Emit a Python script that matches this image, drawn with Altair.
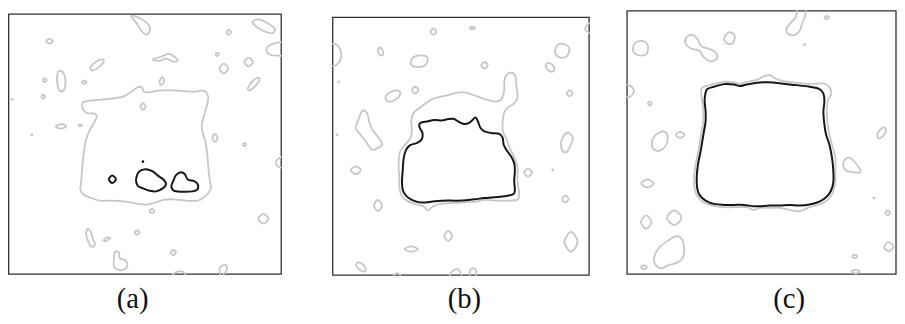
import altair as alt
import pandas as pd

# ---------------- data (local grid units of each panel, y grows downward) -------------
GRAY = "#c6c6c6"
BLACK = "#161616"
FRAME_COLOR = "#303030"

LABELS = ["(a)", "(b)", "(c)"]

FRAME_A = [23, 35, 849, 823]
FRAME_B = [30, 45, 807, 826]
FRAME_C = [37, 25, 852, 823]

A_GRAY_CLOSED = [
    [(252, 300), (290, 295), (340, 290), (372, 284), (395, 270), (415, 256), (427, 257), (433, 270),
     (448, 272), (475, 267), (510, 265), (550, 268), (582, 270), (608, 267), (622, 272), (628, 288),
     (623, 315), (614, 345), (608, 372), (612, 398), (620, 425), (625, 460), (628, 500), (632, 535),
     (636, 560), (628, 577), (612, 592), (595, 600), (560, 600), (522, 596), (492, 598), (468, 606),
     (440, 612), (410, 609), (380, 603), (340, 600), (300, 600), (270, 591), (248, 580), (240, 565),
     (243, 540), (246, 500), (250, 460), (256, 422), (266, 392), (280, 367), (290, 346), (283, 336),
     (262, 335), (249, 325), (246, 310)],
    [(395, 40), (422, 48), (442, 62), (452, 80), (441, 97), (426, 86), (410, 62)],
    [(460, 172), (488, 163), (510, 155), (526, 165), (536, 176), (520, 178), (500, 170), (480, 176)],
    [(762, 58), (782, 51), (810, 64), (830, 80), (822, 93), (800, 88), (776, 75)],
    [(690, 83), (697, 90), (690, 97), (683, 90)],
    [(655, 152), (660, 157), (655, 162), (650, 157)],
    [(750, 167), (763, 180), (750, 193), (737, 180)],
    [(675, 185), (688, 200), (675, 215), (662, 200)],
    [(780, 228), (782, 238), (765, 258), (752, 266), (748, 258), (764, 236)],
    [(147, 110), (157, 117), (147, 124), (137, 117)],
    [(308, 172), (310, 182), (290, 200), (276, 205), (271, 196), (290, 178)],
    [(180, 207), (192, 220), (195, 250), (188, 268), (176, 265), (170, 240), (171, 215)],
    [(132, 229), (138, 235), (132, 241), (126, 235)],
    [(252, 236), (259, 241), (252, 246), (245, 241)],
    [(488, 226), (494, 238), (486, 250), (480, 240)],
    [(128, 279), (134, 285), (128, 291), (122, 285)],
    [(430, 305), (438, 315), (430, 325), (422, 315)],
    [(182, 368), (198, 374), (182, 382), (166, 376)],
    [(240, 369), (246, 372), (240, 375), (234, 372)],
    [(648, 398), (656, 410), (648, 422), (640, 410)],
    [(738, 425), (743, 430), (738, 435), (733, 430)],
    [(457, 625), (464, 632), (457, 639), (450, 632)],
    [(795, 640), (810, 655), (795, 670), (780, 655)],
    [(262, 686), (272, 695), (278, 715), (285, 733), (275, 740), (266, 728), (258, 705)],
    [(310, 720), (320, 712), (330, 713), (320, 722)],
    [(412, 690), (419, 697), (412, 704), (405, 697)],
    [(522, 749), (530, 757), (522, 765), (514, 757)],
    [(345, 756), (357, 757), (360, 775), (375, 780), (383, 795), (375, 808), (355, 810), (342, 800),
     (342, 780)],
]
A_GRAY_OPEN = [
    [(849, 120), (818, 127), (804, 143), (816, 158), (849, 161)],
    [(849, 468), (837, 476), (833, 486), (838, 496), (849, 500)],
    [(664, 823), (662, 806), (672, 796), (684, 798), (683, 812), (674, 823)],
    [(520, 823), (535, 815), (550, 815), (558, 823)],
]
A_BLACK = [
    [(337, 524), (348, 535), (337, 547), (327, 535)],
    [(418, 512), (438, 505), (458, 511), (476, 525), (492, 536), (500, 550), (490, 563), (470, 572),
     (450, 570), (430, 563), (414, 555), (409, 535)],
    [(522, 540), (530, 523), (545, 514), (557, 520), (566, 536), (585, 541), (596, 551), (595, 566),
     (580, 572), (547, 573), (523, 570), (516, 556)],
]
A_GRAY_DOTS = [(34, 293), (93, 401)]
A_BLACK_DOTS = [(430, 482)]

B_BLACK = [
    [(292, 372), (297, 364), (315, 360), (340, 356), (360, 357), (380, 353), (396, 352), (410, 360),
     (425, 367), (440, 366), (452, 357), (463, 348), (470, 360), (478, 380), (490, 390), (510, 395),
     (535, 398), (545, 410), (548, 430), (556, 446), (570, 465), (580, 487), (582, 510), (580, 540),
     (582, 568), (578, 580), (560, 585), (520, 590), (490, 592), (460, 596), (420, 600), (380, 600),
     (340, 602), (300, 606), (275, 600), (255, 588), (243, 570), (240, 545), (242, 510), (245, 472),
     (252, 447), (265, 432), (286, 425), (300, 414), (302, 395), (295, 382)],
]
B_GRAY_CLOSED = [
    [(230, 480), (234, 452), (248, 432), (266, 410), (270, 385), (268, 360), (274, 336), (292, 320),
     (312, 305), (332, 292), (356, 285), (380, 280), (402, 274), (422, 271), (442, 275), (470, 285),
     (500, 295), (522, 300), (540, 294), (549, 270), (550, 240), (556, 220), (570, 212), (583, 222),
     (587, 255), (590, 288), (580, 305), (563, 316), (550, 332), (545, 360), (546, 390), (556, 412),
     (566, 440), (580, 468), (590, 500), (590, 540), (595, 578), (590, 597), (560, 600), (520, 600),
     (490, 598), (460, 604), (420, 606), (380, 608), (350, 611), (330, 620), (318, 630), (305, 617),
     (280, 610), (255, 600), (240, 586), (232, 562), (232, 530), (230, 505)],
    [(335, 79), (344, 88), (335, 97), (326, 88)],
    [(453, 73), (461, 77), (453, 81), (445, 77)],
    [(170, 136), (180, 142), (183, 156), (176, 160), (168, 150)],
    [(300, 160), (318, 168), (310, 190), (285, 195), (266, 186), (275, 165)],
    [(490, 180), (500, 190), (490, 200), (480, 190)],
    [(728, 125), (747, 138), (740, 162), (718, 166), (704, 152), (710, 130)],
    [(680, 183), (695, 188), (702, 203), (692, 210), (677, 197)],
    [(225, 266), (235, 275), (222, 293), (200, 300), (190, 290), (200, 274)],
    [(280, 255), (290, 265), (280, 275), (270, 265)],
    [(748, 266), (757, 275), (748, 284), (739, 275)],
    [(120, 327), (135, 336), (140, 360), (150, 385), (170, 410), (180, 430), (165, 441), (148, 445),
     (130, 420), (114, 400), (100, 380), (108, 355)],
    [(732, 400), (745, 395), (758, 410), (752, 430), (740, 452), (727, 450), (722, 425)],
    [(100, 496), (115, 508), (100, 520), (85, 508)],
    [(622, 503), (634, 515), (622, 527), (610, 515)],
    [(167, 598), (179, 615), (167, 632), (155, 615)],
    [(735, 585), (745, 595), (735, 605), (725, 595)],
    [(380, 692), (392, 707), (380, 722), (368, 707)],
    [(268, 739), (288, 747), (268, 755), (248, 747)],
    [(752, 695), (772, 725), (752, 755), (732, 725)],
    [(105, 788), (120, 792), (130, 808), (122, 815), (102, 800)],
]
B_GRAY_OPEN = [
    [(30, 124), (45, 130), (55, 150), (53, 175), (40, 190), (30, 192)],
    [(807, 62), (798, 72), (795, 82), (807, 92)],
    [(385, 826), (395, 812), (410, 808), (420, 826)],
    [(445, 826), (447, 810), (456, 805), (465, 812), (464, 826)],
    [(215, 826), (225, 820), (235, 826)],
]
B_GRAY_DOTS = [(48, 240), (43, 401), (697, 507)]
B_BLACK_DOTS = []

C_BLACK = [
    [(280, 262), (300, 255), (330, 247), (360, 248), (380, 253), (400, 248), (430, 243), (460, 241),
     (480, 242), (510, 246), (550, 250), (590, 255), (620, 262), (632, 276), (635, 300), (632, 330),
     (635, 370), (640, 400), (650, 430), (658, 470), (662, 510), (662, 545), (655, 570), (640, 590),
     (620, 603), (590, 612), (560, 615), (530, 613), (500, 615), (470, 615), (440, 617), (420, 617),
     (390, 613), (360, 613), (330, 613), (300, 610), (275, 600), (258, 585), (250, 565), (248, 530),
     (252, 490), (260, 450), (265, 420), (270, 390), (275, 360), (275, 330), (272, 300), (274, 278)],
]
C_GRAY_CLOSED = [
    [(262, 262), (272, 254), (300, 247), (330, 240), (360, 242), (380, 246), (400, 240), (430, 234),
     (455, 222), (470, 220), (486, 230), (510, 238), (550, 243), (590, 247), (630, 245), (650, 256),
     (656, 276), (646, 296), (642, 330), (645, 370), (650, 400), (658, 430), (668, 470), (668, 510),
     (668, 545), (661, 575), (646, 597), (622, 611), (590, 620), (560, 632), (538, 630), (500, 622),
     (470, 622), (440, 622), (420, 628), (400, 620), (360, 620), (330, 620), (300, 616), (270, 606),
     (252, 590), (242, 566), (240, 530), (245, 490), (253, 450), (258, 420), (263, 390), (268, 360),
     (268, 330), (265, 300), (262, 280)],
    [(642, 40), (649, 45), (642, 50), (635, 45)],
    [(82, 116), (100, 130), (96, 155), (75, 160), (56, 148), (60, 124)],
    [(218, 104), (235, 98), (250, 110), (262, 132), (285, 140), (304, 150), (310, 168), (292, 178),
     (270, 166), (256, 146), (232, 140), (214, 124)],
    [(345, 90), (363, 100), (358, 122), (340, 124), (331, 108)],
    [(106, 300), (112, 306), (106, 312), (100, 306)],
    [(148, 390), (160, 402), (156, 430), (140, 447), (120, 446), (112, 426), (120, 405), (136, 393)],
    [(198, 392), (211, 401), (198, 410), (185, 401)],
    [(815, 378), (822, 388), (812, 405), (800, 412), (795, 400), (805, 384)],
    [(99, 536), (118, 548), (99, 560), (80, 548)],
    [(694, 480), (708, 470), (724, 480), (745, 512), (720, 514), (700, 508), (692, 495)],
    [(95, 645), (111, 665), (95, 685), (79, 665)],
    [(180, 630), (202, 652), (180, 674), (158, 652)],
    [(186, 708), (204, 718), (210, 750), (205, 775), (188, 788), (165, 795), (140, 805), (122, 792),
     (120, 768), (135, 742), (160, 722)],
    [(88, 796), (97, 802), (88, 808), (79, 802)],
    [(827, 630), (834, 637), (827, 644), (820, 637)],
    [(830, 726), (844, 740), (830, 754), (816, 740)],
    [(727, 764), (735, 769), (727, 774), (719, 769)],
    [(730, 809), (742, 815), (730, 821), (718, 815)],
]
C_GRAY_OPEN = [
    [(552, 25), (548, 45), (532, 62), (520, 80), (526, 95), (545, 98), (560, 85), (568, 62),
     (576, 42), (578, 25)],
    [(37, 248), (52, 256), (58, 270), (48, 284), (37, 286)],
]
C_GRAY_DOTS = [(575, 127), (785, 592)]
C_BLACK_DOTS = []

# ---------------- layout ----------------
Y_DOMAIN = [24, 826.5]
PLOT_H = 267.5
PANELS = [
    # label, x-domain, width, frame, label dx
    ("(a)", [24, 891], 289, FRAME_A, -19.5,
     A_GRAY_CLOSED, A_GRAY_OPEN, A_BLACK, A_GRAY_DOTS, A_BLACK_DOTS),
    ("(b)", [30, 807], 259, FRAME_B, 3.5,
     B_GRAY_CLOSED, B_GRAY_OPEN, B_BLACK, B_GRAY_DOTS, B_BLACK_DOTS),
    ("(c)", [36, 852], 272, FRAME_C, 28,
     C_GRAY_CLOSED, C_GRAY_OPEN, C_BLACK, C_GRAY_DOTS, C_BLACK_DOTS),
]


def contour_df(contours, tag):
    rows = []
    for i, c in enumerate(contours):
        for k, (x, y) in enumerate(c):
            rows.append({"cid": f"{tag}{i}", "k": k, "x": x, "y": y})
    return pd.DataFrame(rows, columns=["cid", "k", "x", "y"])


def dots_df(dots):
    return pd.DataFrame([{"x": x, "y": y} for x, y in dots], columns=["x", "y"])


def make_panel(label, xdom, width, frame, dx, gclosed, gopen, black, gdots, bdots):
    xs = alt.Scale(domain=xdom, nice=False, zero=False)
    ys = alt.Scale(domain=Y_DOMAIN, nice=False, zero=False, reverse=True)
    X = alt.X("x:Q", scale=xs, axis=None)
    Y = alt.Y("y:Q", scale=ys, axis=None)

    fr = pd.DataFrame([{"x0": frame[0], "y0": frame[1], "x1": frame[2], "y1": frame[3]}])
    layers = [
        alt.Chart(fr).mark_rect(filled=False, stroke=FRAME_COLOR, strokeWidth=1.3).encode(
            x=alt.X("x0:Q", scale=xs, axis=None), x2="x1:Q",
            y=alt.Y("y0:Q", scale=ys, axis=None), y2="y1:Q")
    ]
    line_style = dict(strokeCap="round", strokeJoin="round")
    layers.append(
        alt.Chart(contour_df(gclosed, "gc")).mark_line(
            interpolate="cardinal-closed", color=GRAY, strokeWidth=1.8, **line_style
        ).encode(x=X, y=Y, detail="cid:N", order="k:Q"))
    layers.append(
        alt.Chart(contour_df(gopen, "go")).mark_line(
            interpolate="cardinal", color=GRAY, strokeWidth=1.8, **line_style
        ).encode(x=X, y=Y, detail="cid:N", order="k:Q"))
    if gdots:
        layers.append(alt.Chart(dots_df(gdots)).mark_circle(size=8, color=GRAY, opacity=1)
                      .encode(x=X, y=Y))
    layers.append(
        alt.Chart(contour_df(black, "bk")).mark_line(
            interpolate="cardinal-closed", color=BLACK, strokeWidth=2.0, **line_style
        ).encode(x=X, y=Y, detail="cid:N", order="k:Q"))
    if bdots:
        layers.append(alt.Chart(dots_df(bdots)).mark_circle(size=7, color=BLACK, opacity=1)
                      .encode(x=X, y=Y))

    return alt.layer(*layers).properties(
        width=width, height=PLOT_H,
        title=alt.TitleParams(text=label, orient="bottom", frame="group", anchor="middle",
                              font="Liberation Serif", fontSize=29, fontWeight="normal",
                              color="#111111", baseline="alphabetic", offset=32.5, dx=dx),
    )


pa, pb, pc = [make_panel(*p) for p in PANELS]

chart = alt.hconcat(pa, pb, pc, spacing=38, bounds="flush").properties(
    padding=0, background="white"
).configure_view(strokeWidth=0)

chart.save("out.html", embed_options={"renderer": "svg", "actions": False})
